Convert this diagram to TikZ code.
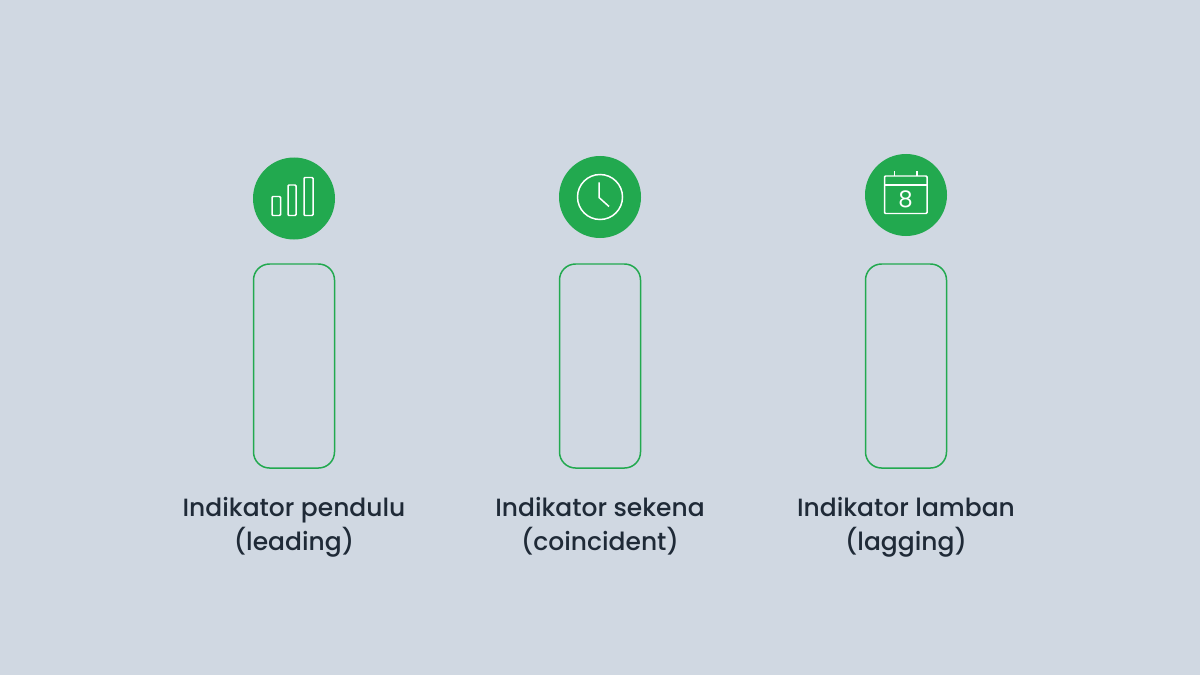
\documentclass[tikz,border=0pt]{standalone}
\usepackage{fontspec}
\setmainfont{Poppins}[UprightFont=* Medium]
\newfontfamily\dayfont{Poppins}
\definecolor{bgcol}{HTML}{D0D8E2}
\definecolor{greencol}{HTML}{22A94F}
\definecolor{textcol}{HTML}{1F2A37}
\begin{document}
\begin{tikzpicture}
[scale=1,
 badge/.style={circle, fill=greencol, minimum size=1.64cm, inner sep=0pt},
 bar/.style={draw=greencol, line width=0.85pt, rounded corners=0.32cm, minimum width=1.62cm, minimum height=4.08cm, inner sep=0pt},
 caption/.style={text=textcol, align=center, font=\fontsize{14.2pt}{19.85pt}\selectfont, anchor=north, inner sep=0pt},
 icon/.style={draw=white, line width=0.85pt},
]

%background
\fill[bgcol] (0,0) rectangle (24,13.5);
\useasboundingbox (0,0) rectangle (24,13.5);

%leading
\node[badge] (lead) at (5.88,9.53) {};
\node[bar] (leadbox) at (5.88,6.18) {};
\node[caption] (leadtext) at (5.88,3.57) {Indikator pendulu\\(leading)};
\draw[icon, rounded corners=0.02cm] (5.44,9.19) rectangle (5.61,9.57);
\draw[icon, rounded corners=0.02cm] (5.76,9.19) rectangle (5.92,9.8);
\draw[icon, rounded corners=0.02cm] (6.08,9.19) rectangle (6.26,9.95);

%coincident
\node[badge] (coin) at (12,9.56) {};
\node[bar] (coinbox) at (12,6.18) {};
\node[caption] (cointext) at (12,3.57) {Indikator sekena\\(coincident)};
\draw[icon] (12,9.56) circle (0.45);
\draw[icon] (11.98,9.85) -- (11.98,9.55) -- (12.18,9.37);

%lagging
\node[badge] (lag) at (18.12,9.6) {};
\node[bar] (lagbox) at (18.12,6.18) {};
\node[caption] (lagtext) at (18.12,3.57) {Indikator lamban\\(lagging)};
\draw[icon, rounded corners=0.02cm] (17.69,9.23) rectangle (18.54,9.98);
\draw[icon] (17.69,9.8) -- (18.54,9.8);
\draw[icon] (17.89,9.98) -- (17.89,10.08);
\draw[icon] (18.34,9.98) -- (18.34,10.08);
\node[text=white, font=\dayfont\fontsize{13pt}{13pt}\selectfont, inner sep=0pt] (lagday) at (18.11,9.52) {8};

\end{tikzpicture}
\end{document}
